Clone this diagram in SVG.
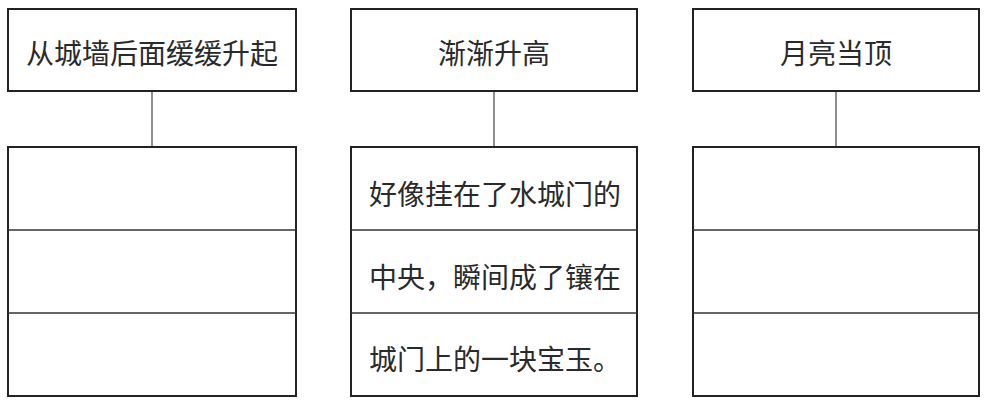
<svg xmlns="http://www.w3.org/2000/svg" width="987" height="403" viewBox="0 0 987 403">
<style>
.box{fill:#fff;stroke:#222;stroke-width:2}
.div{stroke:#333;stroke-width:1.5}
.con{stroke:#444;stroke-width:1.2}
.t{font-family:"Noto Sans CJK SC","Noto Sans",sans-serif;font-size:28px;fill:#2a2a2a;dominant-baseline:central}
.c{text-anchor:middle}
</style>
<rect width="987" height="403" fill="#fff"/>
<g id="connectors">
<line class="con" x1="152" y1="91" x2="152" y2="147"/>
<line class="con" x1="494" y1="91" x2="494" y2="147"/>
<line class="con" x1="836" y1="91" x2="836" y2="147"/>
</g>
<g id="head1">
<rect class="box" x="8" y="9" width="288" height="82"/>
<text class="t c" x="152" y="52">从城墙后面缓缓升起</text>
</g>
<g id="head2">
<rect class="box" x="351" y="9" width="286" height="82"/>
<text class="t c" x="494" y="52">渐渐升高</text>
</g>
<g id="head3">
<rect class="box" x="693" y="9" width="286" height="82"/>
<text class="t c" x="836" y="52">月亮当顶</text>
</g>
<g id="table1">
<rect class="box" x="8" y="147" width="288" height="249"/>
<line class="div" x1="8" y1="230" x2="296" y2="230"/>
<line class="div" x1="8" y1="313" x2="296" y2="313"/>
</g>
<g id="table2">
<rect class="box" x="351" y="147" width="286" height="249"/>
<line class="div" x1="351" y1="230" x2="637" y2="230"/>
<line class="div" x1="351" y1="313" x2="637" y2="313"/>
<text class="t" x="369" y="193">好像挂在了水城门的</text>
<text class="t" x="369" y="276">中央，瞬间成了镶在</text>
<text class="t" x="369" y="358">城门上的一块宝玉。</text>
</g>
<g id="table3">
<rect class="box" x="693" y="147" width="286" height="249"/>
<line class="div" x1="693" y1="230" x2="979" y2="230"/>
<line class="div" x1="693" y1="313" x2="979" y2="313"/>
</g>
</svg>
